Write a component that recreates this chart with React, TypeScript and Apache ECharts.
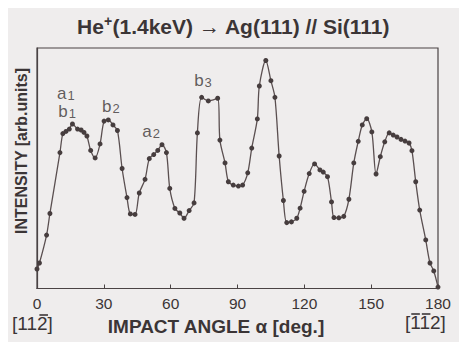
import React, { useEffect, useRef } from "react";
import * as echarts from "echarts";

// Impact angle (deg) and measured intensity (arb. units)
const angles = [
  0, 1.1, 4.3, 5.8, 10.3, 11.6, 13.0, 14.5, 15.9, 18.2, 19.8, 21.1, 22.4, 24.1, 26.1, 28.3,
  30.1, 32.0, 34.1, 36.1, 38.2, 40.4, 41.9, 44.0, 45.9, 48.5, 50.4, 52.4, 54.2, 56.1, 58.1,
  59.6, 61.9, 64.1, 66.0, 68.3, 70.5, 72.0, 73.9, 76.9, 81.1, 82.1, 84.4, 85.9, 88.1, 90.4,
  92.3, 94.6, 96.4, 98.9, 99.8, 102.7, 105.0, 106.8, 108.7, 110.6, 112.1, 114.2, 116.6,
  118.1, 119.9, 122.2, 124.6, 127.0, 128.5, 130.4, 132.2, 133.3, 135.5, 137.7, 140.0, 142.2,
  144.2, 146.0, 148.0, 150.3, 152.2, 154.1, 156.1, 158.1, 159.9, 161.6, 163.4, 165.2, 167.0,
  168.3, 170.0, 171.8, 174.5, 176.4, 178.1, 180,
];
const intensity = [
  8.1, 10.6, 22.2, 31.2, 56.5, 64.4, 65.3, 66.3, 68.4, 66.3, 65.9, 64.9, 63.4, 57.4, 54.3, 60.1,
  69.6, 70.1, 68.0, 65.7, 49.9, 37.8, 31.0, 30.8, 39.7, 45.4, 54.0, 55.7, 57.4, 59.8, 56.5,
  41.6, 33.3, 31.4, 29.2, 32.4, 35.6, 64.7, 79.5, 78.0, 79.1, 61.7, 52.2, 44.4, 43.0, 42.6,
  43.0, 48.1, 58.4, 70.5, 84.2, 94.8, 86.4, 79.5, 55.1, 36.6, 27.4, 27.7, 29.2,
  33.4, 40.4, 47.8, 51.8, 49.3, 48.4, 46.5, 36.0, 29.5, 29.4, 30.0, 37.1, 52.2,
  61.2, 68.0, 70.6, 65.1, 47.6, 54.8, 61.0, 64.7, 63.8, 63.0, 62.0, 61.3, 60.5,
  57.3, 44.4, 32.6, 20.2, 10.6, 7.3, 0.6,
];

// Peak assignments: letter, index, angle, intensity
const peakLetters = ["a", "b", "b", "a", "b"];
const peakIndices = ["1", "1", "2", "2", "3"];
const peakAngles = [13.0, 13.5, 33.2, 51.2, 74.5];
const peakLevels = [80.9, 73.5, 75.5, 65.1, 86.3];

const xTicks = [0, 30, 60, 90, 120, 150, 180];

const ink = "#3b3536";
const frame = "#4a4344";
const font = "'Liberation Sans', Arial, sans-serif";

// Miller-index direction label: digits with an overbar where the index is negative
function direction(left: number, top: number, digits: string[], negative: boolean[]) {
  const size = 19;
  const bracket = size * 0.278;
  const digit = size * 0.556;
  const children: any[] = [
    {
      type: "text",
      x: 0,
      y: 0,
      style: {
        text: "[" + digits.join("") + "]",
        fontSize: size,
        fill: ink,
        fontFamily: font,
        textVerticalAlign: "top",
      },
    },
  ];
  digits.forEach((_, i) => {
    if (!negative[i]) return;
    const x0 = bracket + i * digit + 1;
    children.push({
      type: "line",
      shape: { x1: x0, y1: 1, x2: x0 + digit - 2, y2: 1 },
      style: { stroke: ink, lineWidth: 1.6 },
    });
  });
  return { type: "group", x: left, y: top, children };
}

export default function App() {
  const ref = useRef<HTMLDivElement>(null);

  useEffect(() => {
    if (!ref.current) return;
    const chart = echarts.init(ref.current, undefined, { renderer: "svg" });

    const points = angles.map((a, i) => [a, intensity[i]]);
    const peaks = peakAngles.map((a, i) => ({
      value: [a, peakLevels[i]],
      letter: peakLetters[i],
      idx: peakIndices[i],
    }));

    chart.setOption({
      animation: false,
      backgroundColor: "#efeded",
      textStyle: { fontFamily: font },
      grid: {
        left: 37,
        right: 29,
        top: 48,
        bottom: 61.5,
        show: true,
        borderColor: frame,
        borderWidth: 1.2,
      },
      title: {
        text: "He{sup|+}(1.4keV) → Ag(111) // Si(111)",
        left: "center",
        top: 9,
        textStyle: {
          fontFamily: font,
          fontSize: 21,
          fontWeight: "bold",
          color: ink,
          rich: {
            sup: {
              fontFamily: font,
              fontSize: 14,
              fontWeight: "bold",
              color: ink,
              verticalAlign: "top",
              padding: [0, 0, 10, 0],
            },
          },
        },
      },
      xAxis: {
        type: "value",
        min: 0,
        max: 180,
        interval: 30,
        axisLine: { show: true, lineStyle: { color: frame, width: 1.2 } },
        axisTick: { show: true, inside: true, length: 4, lineStyle: { color: frame } },
        axisLabel: {
          fontSize: 15.5,
          color: ink,
          margin: 7,
          fontFamily: font,
          customValues: xTicks,
        },
        splitLine: { show: false },
      },
      yAxis: {
        type: "value",
        min: 0,
        max: 100,
        axisLine: { show: true, lineStyle: { color: frame, width: 1.2 } },
        axisTick: { show: false },
        axisLabel: { show: false },
        splitLine: { show: false },
      },
      series: [
        {
          type: "line",
          data: points,
          smooth: 0.3,
          symbol: "circle",
          symbolSize: 5,
          lineStyle: { color: "#5a4f50", width: 1.3 },
          itemStyle: { color: "#463d3e" },
        },
        {
          type: "scatter",
          data: peaks,
          symbolSize: 0,
          label: {
            show: true,
            position: "inside",
            formatter: (p: any) => `{l|${p.data.letter}}{s|${p.data.idx}}`,
            rich: {
              l: { fontSize: 17, lineHeight: 17, verticalAlign: "bottom", color: ink, fontFamily: font },
              s: {
                fontSize: 13,
                lineHeight: 9,
                verticalAlign: "bottom",
                color: ink,
                fontFamily: font,
                padding: [0, 0, 0, 1],
              },
            },
          },
        },
      ],
      graphic: [
        {
          type: "text",
          x: 21,
          y: 151,
          rotation: Math.PI / 2,
          style: {
            text: "INTENSITY [arb.units]",
            fontSize: 16,
            fontWeight: "bold",
            fill: ink,
            fontFamily: font,
            textAlign: "center",
            textVerticalAlign: "middle",
          },
        },
        {
          type: "text",
          x: 216,
          y: 326,
          style: {
            text: "IMPACT ANGLE α [deg.]",
            fontSize: 19,
            fontWeight: "bold",
            fill: ink,
            fontFamily: font,
            textAlign: "center",
            textVerticalAlign: "middle",
          },
        },
        direction(12, 314, ["1", "1", "2"], [false, false, true]),
        direction(405, 313, ["1", "1", "2"], [true, true, false]),
      ],
    });

    return () => chart.dispose();
  }, []);

  return <div ref={ref} style={{ width: 467, height: 350, margin: -8 }} />;
}
